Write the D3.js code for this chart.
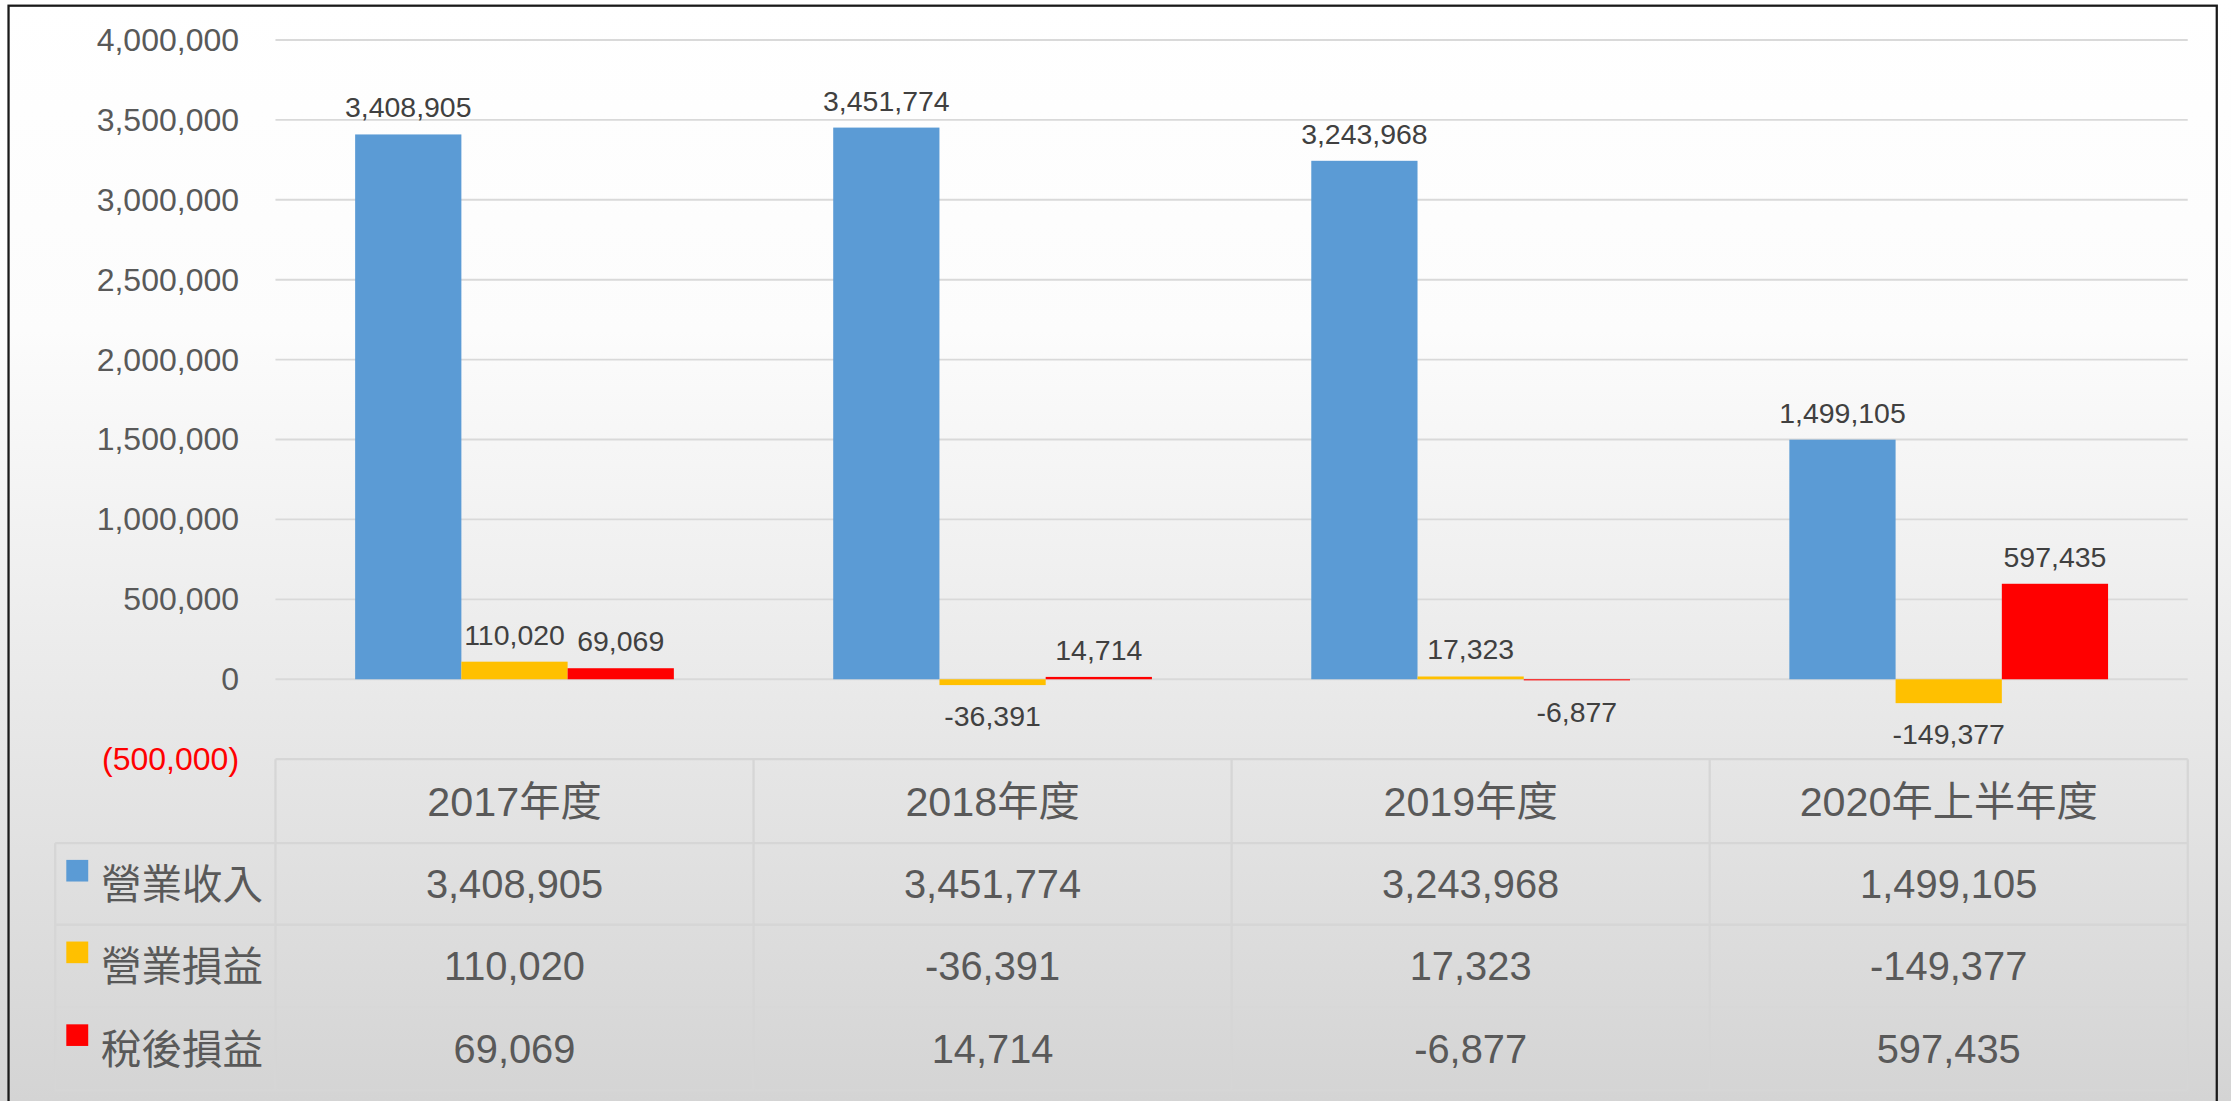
<!DOCTYPE html>
<html>
<head>
<meta charset="utf-8">
<script src="https://cdn.jsdelivr.net/npm/d3@7"></script>
<style>
  html, body { margin: 0; padding: 0; background: #fff; overflow: hidden; }
  text { font-family: "Liberation Sans", Arial, "Noto Sans CJK TC", sans-serif; }
</style>
</head>
<body>
<div id="chart"></div>
<script>
// chart data
var categories = ["2017年度", "2018年度", "2019年度", "2020年上半年度"];
var seriesNames = ["營業收入", "營業損益", "稅後損益"];
var revenue = [3408905, 3451774, 3243968, 1499105];
var opIncome = [110020, -36391, 17323, -149377];
var netIncome = [69069, 14714, -6877, 597435];
var yTicks = [-500000, 0, 500000, 1000000, 1500000, 2000000, 2500000, 3000000, 3500000, 4000000];
var colors = ["#5B9BD5", "#FFC000", "#FF0000"];

var series = [revenue, opIncome, netIncome];

// work in a 1568 x 774 layout, scaled up to the window
var W = 1568, H = 774;
var plot = {left: 193.6, right: 1537.6, top: 28.1, bottom: 533.7};
var legendLeft = 38.8;
var rowEdges = [533.7, 592.7, 650.1, 708.3, 766.6];

var svg = d3.select("#chart")
    .append("svg")
    .attr("width", 2231)
    .attr("height", 1101)
    .attr("viewBox", "0 0 " + W + " " + H)
    .attr("preserveAspectRatio", "none");

// background gradient
var grad = svg.append("defs").append("linearGradient")
    .attr("id", "bg")
    .attr("x1", 0).attr("y1", 0).attr("x2", 0).attr("y2", 1);
grad.append("stop").attr("offset", "0%").attr("stop-color", "#ffffff");
grad.append("stop").attr("offset", "30%").attr("stop-color", "#fcfcfc");
grad.append("stop").attr("offset", "100%").attr("stop-color", "#d4d4d4");

svg.append("rect")
    .attr("width", W).attr("height", H)
    .attr("fill", "url(#bg)");

// frame
svg.append("rect")
    .attr("x", 6).attr("y", 4)
    .attr("width", 1552).attr("height", 790)
    .attr("fill", "none")
    .attr("stroke", "#1a1a1a")
    .attr("stroke-width", 1.6);

// scales
var x = d3.scaleBand()
    .domain(categories)
    .range([plot.left, plot.right])
    .paddingInner(0)
    .paddingOuter(0);

var xs = d3.scaleBand()
    .domain(seriesNames)
    .range([0, x.bandwidth()])
    .paddingInner(0)
    .paddingOuter(0.75);

var y = d3.scaleLinear()
    .domain([-500000, 4000000])
    .range([plot.bottom, plot.top]);

// gridlines
svg.append("g")
    .selectAll("line")
    .data(yTicks.filter(d => d >= 0))
    .enter()
    .append("line")
    .attr("x1", plot.left)
    .attr("x2", plot.right)
    .attr("y1", d => y(d))
    .attr("y2", d => y(d))
    .attr("stroke", "#d9d9d9")
    .attr("stroke-width", 1.3);

// number format with a plain hyphen for negatives
var fmt = d3.formatLocale({decimal: ".", thousands: ",", grouping: [3], currency: ["", ""], minus: "-"}).format(",");

// y axis
var yAxis = svg.append("g")
    .attr("transform", "translate(168,0)")
    .call(d3.axisLeft(y)
        .tickValues(yTicks)
        .tickSize(0)
        .tickPadding(0)
        .tickFormat(d => d < 0 ? "(" + fmt(-d) + ")" : fmt(d)));
yAxis.select(".domain").remove();
yAxis.selectAll("text")
    .attr("font-family", "'Liberation Sans', Arial, sans-serif")
    .attr("font-size", 22.5)
    .attr("fill", d => d < 0 ? "#ff0000" : "#595959");

// bars
var bars = [];
series.forEach(function (vals, s) {
    vals.forEach(function (v, i) {
        bars.push({cat: categories[i], name: seriesNames[s], value: v, s: s});
    });
});

svg.append("g")
    .selectAll("rect")
    .data(bars)
    .enter()
    .append("rect")
    .attr("x", d => x(d.cat) + xs(d.name))
    .attr("width", xs.bandwidth())
    .attr("y", d => y(Math.max(0, d.value)))
    .attr("height", d => Math.abs(y(d.value) - y(0)))
    .attr("fill", d => colors[d.s]);

// bar labels
svg.append("g")
    .selectAll("text")
    .data(bars)
    .enter()
    .append("text")
    .attr("x", d => x(d.cat) + xs(d.name) + xs.bandwidth() / 2)
    .attr("y", d => d.value >= 0 ? y(d.value) - 12 : y(d.value) + 29)
    .attr("text-anchor", "middle")
    .attr("font-size", 20)
    .attr("fill", "#404040")
    .text(d => fmt(d.value));

// data table
var table = svg.append("g")
    .attr("stroke", "#d6d6d6")
    .attr("stroke-width", 1.6)
    .attr("fill", "none");

// horizontal lines
rowEdges.forEach(function (yy, r) {
    table.append("line")
        .attr("x1", r === 0 ? plot.left : legendLeft)
        .attr("x2", plot.right)
        .attr("y1", yy).attr("y2", yy)
        .attr("stroke-opacity", r === 3 ? 0.35 : 1);
});

// vertical lines
var colEdges = categories.map(c => x(c)).concat([plot.right]);
colEdges.forEach(function (xx) {
    table.append("line")
        .attr("x1", xx).attr("x2", xx)
        .attr("y1", rowEdges[0]).attr("y2", rowEdges[4]);
});
table.append("line")
    .attr("x1", legendLeft).attr("x2", legendLeft)
    .attr("y1", rowEdges[1]).attr("y2", rowEdges[4]);

// header row
svg.append("g")
    .selectAll("text")
    .data(categories)
    .enter()
    .append("text")
    .attr("x", d => x(d) + x.bandwidth() / 2)
    .attr("y", (rowEdges[0] + rowEdges[1]) / 2)
    .attr("dy", "0.36em")
    .attr("text-anchor", "middle")
    .attr("font-size", 29)
    .attr("fill", "#595959")
    .text(d => d);

// table values
series.forEach(function (vals, s) {
    var cy = (rowEdges[s + 1] + rowEdges[s + 2]) / 2;
    svg.append("g")
        .selectAll("text")
        .data(vals)
        .enter()
        .append("text")
        .attr("x", (d, i) => x(categories[i]) + x.bandwidth() / 2)
        .attr("y", cy)
        .attr("dy", "0.36em")
        .attr("text-anchor", "middle")
        .attr("font-size", 28)
        .attr("fill", "#595959")
        .text(d => fmt(d));

    // legend key
    svg.append("rect")
        .attr("x", 46.6)
        .attr("y", rowEdges[s + 1] + 11.8)
        .attr("width", 15.4)
        .attr("height", 15.2)
        .attr("fill", colors[s]);

    svg.append("text")
        .attr("x", 71)
        .attr("y", cy)
        .attr("dy", "0.36em")
        .attr("font-family", "'Noto Sans CJK TC', sans-serif")
        .attr("font-size", 28.5)
        .attr("fill", "#595959")
        .text(seriesNames[s]);
});
</script>
</body>
</html>
